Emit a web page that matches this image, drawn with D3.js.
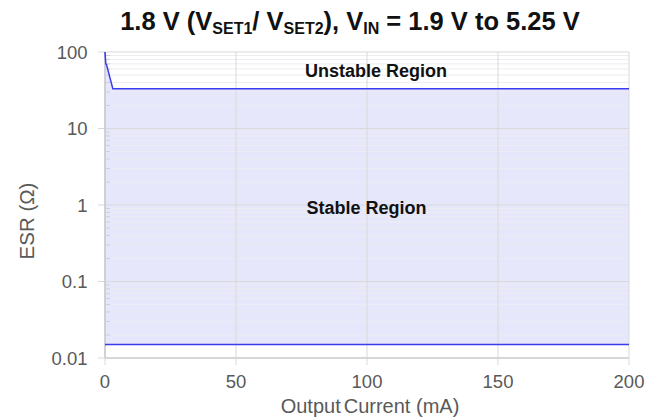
<!DOCTYPE html>
<html>
<head>
<meta charset="utf-8">
<script src="https://cdn.jsdelivr.net/npm/d3@7"></script>
<style>
  html, body { margin: 0; padding: 0; background: #fff; }
  svg { display: block; font-family: "Liberation Sans", Arial, sans-serif; }
</style>
</head>
<body>
<svg id="chart" width="658" height="419"></svg>
<script>
// Upper stability boundary (output current in mA, ESR in ohms)
const upperCurrent = [0, 0.3, 0.6, 3, 200];
const upperEsr = [100, 70, 68, 33, 33];
// Lower stability boundary
const lowerCurrent = [0, 200];
const lowerEsr = [0.015, 0.015];
// Axis ticks
const xTicks = [0, 50, 100, 150, 200];
const yTicks = [0.01, 0.1, 1, 10, 100];
const yTickLabels = ["0.01", "0.1", "1", "10", "100"];

const svg = d3.select("#chart");
const margin = { left: 105, right: 29, top: 52, bottom: 61 };
const W = 658, H = 419;

const x = d3.scaleLinear().domain([0, 200]).range([margin.left, W - margin.right]);
const y = d3.scaleLog().domain([0.01, 100]).range([H - margin.bottom, margin.top]);

const gridColor = "#d9d9d9";
const minorColor = "#ececf2";

// Minor horizontal gridlines
const minorVals = [];
for (let e = -2; e < 2; e++) {
  for (let k = 2; k <= 9; k++) minorVals.push(k * Math.pow(10, e));
}

const upper = upperCurrent.map((c, i) => ({ c, v: upperEsr[i] }));
const lower = lowerCurrent.map((c, i) => ({ c, v: lowerEsr[i] }));

// Stable region fill between the two boundaries
const fillData = upper.map(d => ({ c: d.c, hi: d.v, lo: lowerEsr[0] }));
svg.append("path")
  .datum(fillData)
  .attr("fill", "#e7e7fb")
  .attr("d", d3.area().x(d => x(d.c)).y0(d => y(d.lo)).y1(d => y(d.hi)));

svg.append("g").selectAll("line").data(minorVals).join("line")
  .attr("x1", x(0)).attr("x2", x(200))
  .attr("y1", d => y(d)).attr("y2", d => y(d))
  .attr("stroke", minorColor).attr("stroke-width", 1);

// Minor tick marks inside the plot
svg.append("g").selectAll("line").data(minorVals).join("line")
  .attr("x1", x(0)).attr("x2", x(0) + 5)
  .attr("y1", d => y(d)).attr("y2", d => y(d))
  .attr("stroke", "#cfcfd8").attr("stroke-width", 1);

// Major horizontal gridlines with outer ticks
svg.append("g").selectAll("line").data(yTicks).join("line")
  .attr("x1", x(0) - 7).attr("x2", x(200))
  .attr("y1", d => y(d)).attr("y2", d => y(d))
  .attr("stroke", gridColor).attr("stroke-width", 1);

// Vertical gridlines with outer ticks
svg.append("g").selectAll("line").data(xTicks).join("line")
  .attr("x1", d => x(d)).attr("x2", d => x(d))
  .attr("y1", y(100)).attr("y2", y(0.01) + 7)
  .attr("stroke", gridColor).attr("stroke-width", 1);

// Axis lines
svg.append("line").attr("x1", x(0)).attr("x2", x(0)).attr("y1", y(100)).attr("y2", y(0.01))
  .attr("stroke", "#c8c8d0").attr("stroke-width", 1.5);
svg.append("line").attr("x1", x(0)).attr("x2", x(200)).attr("y1", y(0.01)).attr("y2", y(0.01))
  .attr("stroke", "#d0d0d0").attr("stroke-width", 1.5);

// Boundary lines
const line = d3.line().x(d => x(d.c)).y(d => y(d.v));
svg.append("path").datum(upper).attr("d", line)
  .attr("fill", "none").attr("stroke", "#3a3aee").attr("stroke-width", 1.5);
svg.append("path").datum(lower).attr("d", line)
  .attr("fill", "none").attr("stroke", "#3a3aee").attr("stroke-width", 1.5);

// Tick labels
svg.append("g").selectAll("text").data(yTicks).join("text")
  .attr("x", x(0) - 17.5).attr("y", d => y(d) + 6.5)
  .attr("text-anchor", "end").attr("font-size", 18.5).attr("fill", "#595959")
  .text((d, i) => yTickLabels[i]);

svg.append("g").selectAll("text").data(xTicks).join("text")
  .attr("x", d => x(d)).attr("y", 387.5)
  .attr("text-anchor", "middle").attr("font-size", 18.5).attr("fill", "#595959")
  .text(d => d);

// Axis titles
const xTitle = svg.append("text").attr("x", 370).attr("y", 413)
  .attr("text-anchor", "middle").attr("font-size", 20).attr("fill", "#595959");
xTitle.append("tspan").text("Output");
xTitle.append("tspan").attr("dx", 3).text("Current (mA)");

svg.append("text").attr("transform", "translate(34,221) rotate(-90)")
  .attr("text-anchor", "middle").attr("font-size", 20.5).attr("fill", "#595959")
  .text("ESR (Ω)");

// Region labels
svg.append("text").attr("x", 376).attr("y", 76.5)
  .attr("text-anchor", "middle").attr("font-size", 18).attr("font-weight", "bold").attr("fill", "#111")
  .text("Unstable Region");
svg.append("text").attr("x", 366.5).attr("y", 213.5)
  .attr("text-anchor", "middle").attr("font-size", 18).attr("font-weight", "bold").attr("fill", "#111")
  .text("Stable Region");

// Title with subscripts
const title = svg.append("text").attr("x", 350).attr("y", 30)
  .attr("text-anchor", "middle").attr("font-size", 25.5).attr("font-weight", "bold").attr("fill", "#111");
const parts = [
  ["1.8 V (V", false], ["SET1", true], ["/ V", false], ["SET2", true],
  ["), V", false], ["IN", true], [" = 1.9 V to 5.25 V", false]
];
parts.forEach(([t, sub]) => {
  const ts = title.append("tspan").text(t);
  if (sub) ts.attr("font-size", 16).attr("baseline-shift", "-28%");
});
</script>
</body>
</html>
